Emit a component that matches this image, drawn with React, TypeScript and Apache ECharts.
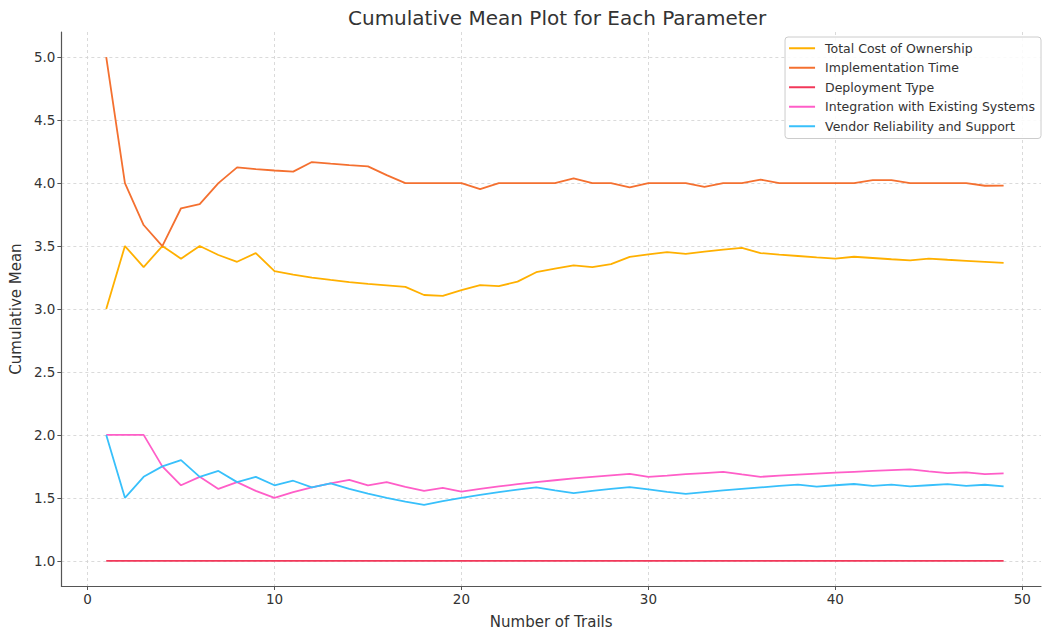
import React, { useEffect, useRef } from "react";
import * as echarts from "echarts";

const trials = Array.from({ length: 49 }, (_, i) => i + 1);

const totalCostOfOwnership = [
  3.0, 3.5, 3.333, 3.5, 3.4, 3.5, 3.429, 3.375, 3.444, 3.3,
  3.273, 3.25, 3.231, 3.214, 3.2, 3.188, 3.176, 3.111, 3.105, 3.15,
  3.19, 3.182, 3.217, 3.292, 3.32, 3.346, 3.333, 3.357, 3.414, 3.433,
  3.452, 3.438, 3.455, 3.471, 3.486, 3.444, 3.432, 3.421, 3.41, 3.4,
  3.415, 3.405, 3.395, 3.386, 3.4, 3.391, 3.383, 3.375, 3.367,
];

const implementationTime = [
  5.0, 4.0, 3.667, 3.5, 3.8, 3.833, 4.0, 4.125, 4.111, 4.1,
  4.091, 4.167, 4.154, 4.143, 4.133, 4.063, 4.0, 4.0, 4.0, 4.0,
  3.952, 4.0, 4.0, 4.0, 4.0, 4.038, 4.0, 4.0, 3.966, 4.0,
  4.0, 4.0, 3.97, 4.0, 4.0, 4.028, 4.0, 4.0, 4.0, 4.0,
  4.0, 4.024, 4.023, 4.0, 4.0, 4.0, 4.0, 3.979, 3.98,
];

const deploymentType = trials.map(() => 1.0);

const integrationWithExistingSystems = [
  2.0, 2.0, 2.0, 1.75, 1.6, 1.667, 1.571, 1.625, 1.556, 1.5,
  1.545, 1.583, 1.615, 1.643, 1.6, 1.625, 1.588, 1.556, 1.579, 1.55,
  1.571, 1.591, 1.609, 1.625, 1.64, 1.654, 1.667, 1.679, 1.69, 1.667,
  1.677, 1.688, 1.697, 1.706, 1.686, 1.667, 1.676, 1.684, 1.692, 1.7,
  1.707, 1.714, 1.721, 1.727, 1.711, 1.696, 1.702, 1.688, 1.694,
];

const vendorReliabilityAndSupport = [
  2.0, 1.5, 1.667, 1.75, 1.8, 1.667, 1.714, 1.625, 1.667, 1.6,
  1.636, 1.583, 1.615, 1.571, 1.533, 1.5, 1.471, 1.444, 1.474, 1.5,
  1.524, 1.545, 1.565, 1.583, 1.56, 1.538, 1.556, 1.571, 1.586, 1.567,
  1.548, 1.531, 1.545, 1.559, 1.571, 1.583, 1.595, 1.605, 1.59, 1.6,
  1.61, 1.595, 1.605, 1.591, 1.6, 1.609, 1.596, 1.604, 1.592,
];

const seriesNames = [
  "Total Cost of Ownership",
  "Implementation Time",
  "Deployment Type",
  "Integration with Existing Systems",
  "Vendor Reliability and Support",
];
const seriesColors = ["#ffb000", "#f47030", "#f2385a", "#ff5ec8", "#38c0fb"];
const seriesValues = [
  totalCostOfOwnership,
  implementationTime,
  deploymentType,
  integrationWithExistingSystems,
  vendorReliabilityAndSupport,
];

const FONT = "DejaVu Sans";

export default function App() {
  const ref = useRef<HTMLDivElement>(null);
  useEffect(() => {
    if (!ref.current) return;
    const chart = echarts.init(ref.current, null, { renderer: "svg" });
    chart.setOption({
      animation: false,
      backgroundColor: "#ffffff",
      textStyle: { fontFamily: FONT },
      title: {
        text: "Cumulative Mean Plot for Each Parameter",
        left: 343,
        top: 3,
        textStyle: { fontFamily: FONT, fontSize: 20, fontWeight: "normal", color: "#333333" },
      },
      legend: {
        orient: "vertical",
        right: 1,
        top: 37,
        padding: [4, 6, 5, 4],
        icon: "rect",
        itemWidth: 26,
        itemHeight: 2,
        itemGap: 5,
        borderColor: "#cccccc",
        borderWidth: 1,
        borderRadius: 3,
        backgroundColor: "rgba(255,255,255,0.85)",
        textStyle: { fontFamily: FONT, fontSize: 12.5, color: "#333333", padding: [0, 0, 0, 5], lineHeight: 14.5 },
        data: seriesNames,
      },
      grid: { left: 60, right: 1, top: 32, bottom: 41, containLabel: false },
      xAxis: {
        type: "value",
        min: -1.4,
        max: 51,
        splitNumber: 5,
        name: "Number of Trails",
        nameLocation: "middle",
        nameGap: 28,
        nameTextStyle: { fontFamily: FONT, fontSize: 15, color: "#333333" },
        axisLine: { show: true, onZero: false, lineStyle: { color: "#555555", width: 1.2 } },
        axisTick: { show: true, length: 4, lineStyle: { color: "#555555" } },
        axisLabel: {
          fontFamily: FONT,
          fontSize: 13.5,
          color: "#333333",
          margin: 6,
          showMinLabel: false,
          showMaxLabel: false,
          formatter: (v: number) => (Number.isInteger(v) ? String(v) : ""),
        },
        splitLine: {
          show: true,
          showMinLine: false,
          showMaxLine: false,
          lineStyle: { color: "#d0d0d0", type: [3, 3], width: 0.8 },
        },
      },
      yAxis: {
        type: "value",
        min: 0.8,
        max: 5.2,
        splitNumber: 9,
        name: "Cumulative Mean",
        nameLocation: "middle",
        nameGap: 32,
        nameTextStyle: { fontFamily: FONT, fontSize: 15, color: "#333333" },
        axisLine: { show: true, onZero: false, lineStyle: { color: "#555555", width: 1.2 } },
        axisTick: { show: true, length: 4, lineStyle: { color: "#555555" } },
        axisLabel: {
          fontFamily: FONT,
          fontSize: 13.5,
          color: "#333333",
          margin: 6,
          showMinLabel: false,
          showMaxLabel: false,
          formatter: (v: number) => (Math.abs(v * 2 - Math.round(v * 2)) < 1e-6 ? v.toFixed(1) : ""),
        },
        splitLine: {
          show: true,
          showMinLine: false,
          showMaxLine: false,
          lineStyle: { color: "#d0d0d0", type: [3, 3], width: 0.8 },
        },
      },
      series: seriesNames.map((name, i) => ({
        name,
        type: "line",
        data: trials.map((t, j) => [t, seriesValues[i][j]]),
        symbol: "none",
        showSymbol: false,
        lineStyle: { color: seriesColors[i], width: 1.8 },
        itemStyle: { color: seriesColors[i] },
        z: 2 + i,
      })),
    });
    return () => chart.dispose();
  }, []);
  return (
    <div
      ref={ref}
      style={{ position: "absolute", left: 0, top: 0, width: 1042, height: 634 }}
    />
  );
}
